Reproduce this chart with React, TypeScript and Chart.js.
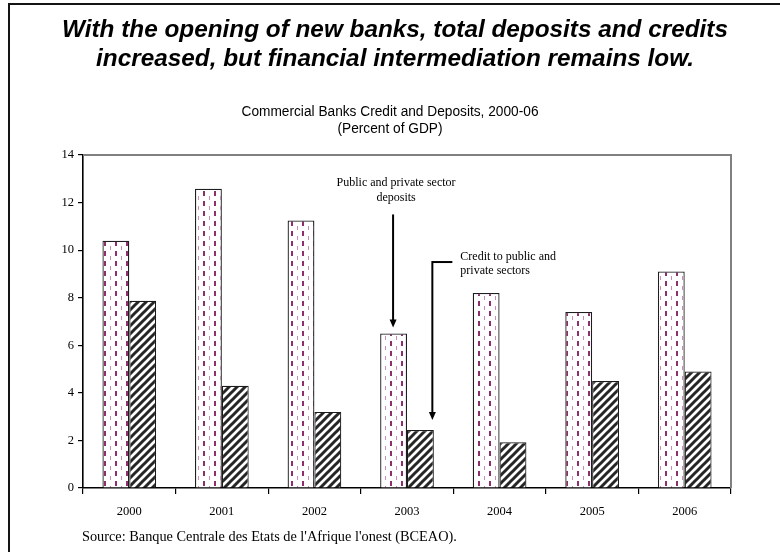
import React, { useEffect, useRef } from "react";
import { Chart, registerables } from "chart.js";

Chart.register(...registerables);

const years = ["2000", "2001", "2002", "2003", "2004", "2005", "2006"];
const deposits = [10.4, 12.58, 11.25, 6.5, 8.2, 7.4, 9.1];
const credits = [7.87, 4.3, 3.2, 2.44, 1.92, 4.5, 4.9];
const yMin = 0;
const yMax = 14;
const yStep = 2;

const titleLines = [
  "With the opening of new banks, total deposits and credits",
  "increased, but financial intermediation remains low.",
];
const subtitleLines = ["Commercial Banks Credit and Deposits, 2000-06", "(Percent of GDP)"];
const sourceText = "Source: Banque Centrale des Etats de l'Afrique l'onest (BCEAO).";
const depositNote = ["Public and private sector", "deposits"];
const creditNote = ["Credit to public and", "private sectors"];
const noteYear = "2003";

function makeDepositPattern(): CanvasPattern | string {
  const c = document.createElement("canvas");
  c.width = 11;
  c.height = 10;
  const g = c.getContext("2d");
  if (!g) return "#fff";
  g.fillStyle = "#ffffff";
  g.fillRect(0, 0, 11, 10);
  g.fillStyle = "#8e2f6c";
  g.fillRect(5, 1, 2, 5);
  g.fillStyle = "#c98fb5";
  g.fillRect(0, 6, 1, 4);
  return g.createPattern(c, "repeat") || "#fff";
}

function makeCreditPattern(): CanvasPattern | string {
  const s = 8;
  const c = document.createElement("canvas");
  c.width = s;
  c.height = s;
  const g = c.getContext("2d");
  if (!g) return "#333";
  g.fillStyle = "#ffffff";
  g.fillRect(0, 0, s, s);
  g.strokeStyle = "#262626";
  g.lineWidth = 3;
  g.beginPath();
  g.moveTo(-1, s + 1);
  g.lineTo(s + 1, -1);
  g.moveTo(-s / 2 - 1, s / 2 + 1);
  g.lineTo(s / 2 + 1, -s / 2 - 1);
  g.moveTo(s / 2 - 1, s * 1.5 + 1);
  g.lineTo(s * 1.5 + 1, s / 2 - 1);
  g.stroke();
  return g.createPattern(c, "repeat") || "#333";
}

function drawFitted(
  ctx: CanvasRenderingContext2D,
  text: string,
  cx: number,
  baseline: number,
  sx: number
) {
  ctx.save();
  ctx.translate(cx, baseline);
  ctx.scale(sx, 1);
  ctx.textAlign = "center";
  ctx.textBaseline = "alphabetic";
  ctx.fillText(text, 0, 0);
  ctx.restore();
}

function arrowDown(ctx: CanvasRenderingContext2D, x: number, y0: number, tip: number) {
  ctx.beginPath();
  ctx.moveTo(x, y0);
  ctx.lineTo(x, tip - 6);
  ctx.stroke();
  ctx.beginPath();
  ctx.moveTo(x, tip);
  ctx.lineTo(x - 3.5, tip - 8);
  ctx.lineTo(x + 3.5, tip - 8);
  ctx.closePath();
  ctx.fill();
}

const decorPlugin = {
  id: "decor",
  afterDraw(chart: any) {
    const { ctx, chartArea: a, scales } = chart;
    const ys = scales.y;
    ctx.save();

    // plot frame (top and right)
    ctx.strokeStyle = "#808080";
    ctx.lineWidth = 2;
    ctx.beginPath();
    ctx.moveTo(a.left, a.top);
    ctx.lineTo(a.right, a.top);
    ctx.lineTo(a.right, a.bottom);
    ctx.stroke();

    // outer page border
    ctx.strokeStyle = "#141414";
    ctx.lineWidth = 2;
    ctx.beginPath();
    ctx.moveTo(9, 552);
    ctx.lineTo(9, 4);
    ctx.lineTo(780, 4);
    ctx.stroke();

    // title
    ctx.fillStyle = "#000";
    ctx.font = "italic bold 24px 'Liberation Sans', Arial, sans-serif";
    const tw = ctx.measureText(titleLines[0]).width;
    const tsx = 666 / tw;
    drawFitted(ctx, titleLines[0], 395, 37, tsx);
    drawFitted(ctx, titleLines[1], 395, 66, tsx);

    // subtitle
    ctx.font = "14px 'Liberation Sans', Arial, sans-serif";
    const sw = ctx.measureText(subtitleLines[0]).width;
    const ssx = Math.min(1, 297 / sw);
    drawFitted(ctx, subtitleLines[0], 390, 116, ssx);
    drawFitted(ctx, subtitleLines[1], 390, 133, ssx);

    // source
    ctx.font = "14.3px 'Liberation Serif', 'Times New Roman', serif";
    ctx.textAlign = "left";
    ctx.textBaseline = "alphabetic";
    ctx.fillText(sourceText, 82, 541);

    // annotations
    const idx = years.indexOf(noteYear);
    const dBar = chart.getDatasetMeta(0).data[idx];
    const cBar = chart.getDatasetMeta(1).data[idx];
    ctx.strokeStyle = "#000";
    ctx.fillStyle = "#000";
    ctx.lineWidth = 2;

    const dx = dBar.x - 0.5;
    const dStart = ys.getPixelForValue(11.5);
    arrowDown(ctx, dx, dStart, dBar.y - 6);
    ctx.font = "12px 'Liberation Serif', 'Times New Roman', serif";
    ctx.textAlign = "center";
    ctx.fillText(depositNote[0], dx + 3, dStart - 28);
    ctx.fillText(depositNote[1], dx + 3, dStart - 13.5);

    const cx = cBar.x + cBar.width / 2 - 1.5;
    const cStart = ys.getPixelForValue(9.5);
    ctx.beginPath();
    ctx.moveTo(cx + 20, cStart);
    ctx.lineTo(cx, cStart);
    ctx.stroke();
    arrowDown(ctx, cx, cStart - 1, cBar.y - 10);
    ctx.textAlign = "left";
    ctx.fillText(creditNote[0], cx + 28, cStart - 2);
    ctx.fillText(creditNote[1], cx + 28, cStart + 12);

    ctx.restore();
  },
};

export default function App() {
  const ref = useRef<HTMLCanvasElement | null>(null);

  useEffect(() => {
    if (!ref.current) return;
    const serif = "'Liberation Serif', 'Times New Roman', serif";
    const chart = new Chart(ref.current, {
      type: "bar",
      data: {
        labels: years,
        datasets: [
          {
            label: "Public and private sector deposits",
            data: deposits,
            backgroundColor: makeDepositPattern() as any,
            borderColor: "#1e1e1e",
            borderWidth: 1.3,
            barPercentage: 1,
            categoryPercentage: 0.58,
          },
          {
            label: "Credit to public and private sectors",
            data: credits,
            backgroundColor: makeCreditPattern() as any,
            borderColor: "#1a1a1a",
            borderWidth: 1.2,
            barPercentage: 1,
            categoryPercentage: 0.58,
          },
        ],
      },
      options: {
        responsive: false,
        animation: false,
        devicePixelRatio: 1,
        layout: { padding: { top: 155, right: 49, left: 0, bottom: 0 } },
        plugins: {
          legend: { display: false },
          tooltip: { enabled: false },
          title: { display: false },
        },
        scales: {
          x: {
            offset: true,
            grid: {
              offset: true,
              drawOnChartArea: false,
              drawTicks: true,
              tickLength: 6,
              color: "#000",
              lineWidth: 1.2,
            },
            border: { color: "#000", width: 1.6 },
            ticks: { color: "#000", font: { family: serif, size: 12.5 }, padding: 10 },
            afterFit: (s: any) => {
              s.height = 64;
            },
          },
          y: {
            min: yMin,
            max: yMax,
            grid: {
              drawOnChartArea: false,
              drawTicks: true,
              tickLength: 5,
              color: "#000",
              lineWidth: 1.2,
            },
            border: { color: "#000", width: 1.6 },
            ticks: {
              stepSize: yStep,
              color: "#000",
              font: { family: serif, size: 12.5 },
              padding: 4,
            },
            afterFit: (s: any) => {
              s.width = 83;
            },
          },
        },
      },
      plugins: [decorPlugin],
    });
    return () => chart.destroy();
  }, []);

  return (
    <div style={{ position: "absolute", left: 0, top: 0, width: 780, height: 552, background: "#fff" }}>
      <canvas ref={ref} width={780} height={552} style={{ display: "block" }} />
    </div>
  );
}
